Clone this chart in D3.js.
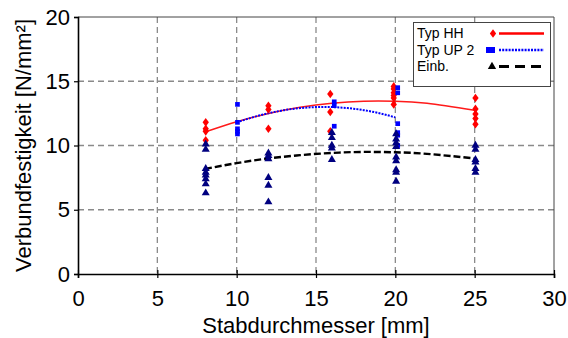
<!DOCTYPE html>
<html>
<head>
<meta charset="utf-8">
<script src="https://cdn.jsdelivr.net/npm/d3@7/dist/d3.min.js"></script>
<style>
  html, body { margin: 0; padding: 0; background: #fff; }
  svg { display: block; font-family: "Liberation Sans", Arial, sans-serif; }
</style>
</head>
<body>
<svg id="chart" width="568" height="338"></svg>
<script>
// ---- data ----
const xTicks = [0, 5, 10, 15, 20, 25, 30];
const yTicks = [0, 5, 10, 15, 20];
const xTitle = "Stabdurchmesser [mm]";
const yTitle = "Verbundfestigkeit [N/mm²]";
const seriesNames = ["Typ HH", "Typ UP 2", "Einb."];

// Typ HH measurements
const hhX = [8.05, 8.05, 8.05, 8.05, 12, 12, 12, 15.9, 15.9, 15.9, 19.9, 19.9, 19.9, 19.9, 19.9, 19.9, 25.05, 25.05, 25.05, 25.05, 25.05];
const hhY = [11.8, 11.3, 11.1, 10.4, 13.1, 12.8, 11.3, 14.0, 12.6, 11.1, 14.6, 14.4, 14.1, 13.9, 13.7, 13.2, 13.7, 12.85, 12.45, 12.1, 11.65];
// Typ UP 2 measurements
const upX = [10.05, 10.05, 10.05, 10.05, 10.05, 16.15, 16.15, 16.15, 20.15, 20.15, 20.15, 20.15, 20.15, 20.15];
const upY = [13.2, 11.8, 11.3, 11.1, 10.9, 13.4, 13.1, 11.5, 14.5, 14.1, 11.7, 11.0, 10.8, 10.0];
// Einb. measurements
const einX = [8.05, 8.05, 8.05, 8.05, 8.05, 8.05, 8.05, 8.05, 12, 12, 12, 12, 12, 12, 16, 16, 16, 16, 16, 20.05, 20.05, 20.05, 20.05, 20.05, 20.05, 20.05, 20.05, 20.05, 25.05, 25.05, 25.05, 25.05, 25.05, 25.05];
const einY = [10.1, 9.7, 8.2, 7.9, 7.7, 7.4, 7.0, 6.3, 9.4, 9.2, 8.95, 7.5, 6.9, 5.6, 11.0, 10.6, 10.0, 9.8, 8.9, 10.9, 10.5, 10.2, 9.9, 9.1, 8.8, 8.1, 7.9, 7.2, 10.0, 9.7, 8.9, 8.7, 8.2, 7.9];

// Trend curves
const hhFitX = [8, 10, 12, 14, 16, 18, 20, 22, 25];
const hhFitY = [11.05, 11.85, 12.49, 12.97, 13.29, 13.45, 13.45, 13.29, 12.75];
const upFitX = [10, 11, 12, 13, 14, 15, 16, 17, 18, 19, 20];
const upFitY = [11.8, 12.19, 12.51, 12.75, 12.91, 12.99, 12.99, 12.91, 12.75, 12.51, 12.19];
const einFitX = [8, 10, 12, 14, 16, 18, 20, 22, 25];
const einFitY = [8.17, 8.63, 8.99, 9.25, 9.42, 9.5, 9.47, 9.35, 8.99];

// ---- drawing ----
const svg = d3.select("#chart");
const L = 78, R = 554, T = 17, B = 274;
const x = d3.scaleLinear().domain([0, 30]).range([L, R]);
const y = d3.scaleLinear().domain([0, 20]).range([B, T]);

// grid
const grid = svg.append("g").attr("stroke", "#8a8a8a").attr("stroke-width", 1.3).attr("stroke-dasharray", "6,4");
grid.selectAll("line.v").data(xTicks.filter(d => d > 0 && d < 30)).enter().append("line")
  .attr("x1", d => x(d)).attr("x2", d => x(d)).attr("y1", T).attr("y2", B);
grid.selectAll("line.h").data(yTicks.filter(d => d > 0 && d < 20)).enter().append("line")
  .attr("x1", L).attr("x2", R).attr("y1", d => y(d)).attr("y2", d => y(d));

// frame top/right
svg.append("line").attr("x1", L).attr("x2", R).attr("y1", T).attr("y2", T).attr("stroke", "#444").attr("stroke-width", 1);
svg.append("line").attr("x1", R).attr("x2", R).attr("y1", T).attr("y2", B).attr("stroke", "#444").attr("stroke-width", 1);

// axes
const xAxis = svg.append("g").attr("transform", `translate(0,${B})`)
  .call(d3.axisBottom(x).tickValues(xTicks).tickSize(4).tickPadding(14));
const yAxis = svg.append("g").attr("transform", `translate(${L},0)`)
  .call(d3.axisLeft(y).tickValues(yTicks).tickSize(4).tickPadding(5));
[xAxis, yAxis].forEach(a => {
  a.select(".domain").attr("stroke", "#000").attr("stroke-width", 1.6);
  a.selectAll(".tick line").attr("stroke", "#000").attr("stroke-width", 1.2);
  a.selectAll(".tick text").attr("font-size", 22).attr("fill", "#000").attr("font-family", "Liberation Sans, Arial, sans-serif");
});
xAxis.selectAll(".tick line").attr("y1", -4).attr("y2", 4);
xAxis.selectAll(".tick text").attr("dy", "0.71em").attr("y", 16);
yAxis.selectAll(".tick text").attr("x", -8);

svg.append("text").attr("x", (L + R) / 2).attr("y", 333).attr("text-anchor", "middle")
  .attr("font-size", 22).text(xTitle);
svg.append("text").attr("transform", `translate(31,${(T + B) / 2}) rotate(-90)`).attr("text-anchor", "middle")
  .attr("font-size", 22).text(yTitle);

// lines
const line = d3.line().x(d => x(d[0])).y(d => y(d[1])).curve(d3.curveNatural);
svg.append("path").datum(hhFitX.map((v, i) => [v, hhFitY[i]])).attr("d", line)
  .attr("fill", "none").attr("stroke", "#ff1a1a").attr("stroke-width", 1.5);
svg.append("path").datum(upFitX.map((v, i) => [v, upFitY[i]])).attr("d", line)
  .attr("fill", "none").attr("stroke", "#0000ff").attr("stroke-width", 2).attr("stroke-dasharray", "2,1.2");
svg.append("path").datum(einFitX.map((v, i) => [v, einFitY[i]])).attr("d", line)
  .attr("fill", "none").attr("stroke", "#000").attr("stroke-width", 2.4).attr("stroke-dasharray", "7,3");

// markers
const diamond = d3.symbol().type(d3.symbolDiamond).size(26);
const square = d3.symbol().type(d3.symbolSquare).size(22);
const tri = d3.symbol().type(d3.symbolTriangle).size(28);
svg.append("g").selectAll("path").data(hhX.map((v, i) => [v, hhY[i]])).enter().append("path")
  .attr("d", diamond).attr("transform", d => `translate(${x(d[0])},${y(d[1])}) scale(1.15,0.9)`).attr("fill", "#ff0000");
svg.append("g").selectAll("path").data(upX.map((v, i) => [v, upY[i]])).enter().append("path")
  .attr("d", square).attr("transform", d => `translate(${x(d[0])},${y(d[1])})`).attr("fill", "#0000ff");
svg.append("g").selectAll("path").data(einX.map((v, i) => [v, einY[i]])).enter().append("path")
  .attr("d", tri).attr("transform", d => `translate(${x(d[0])},${y(d[1])})`).attr("fill", "#000080");

// legend
const lg = svg.append("g");
lg.append("rect").attr("x", 413.5).attr("y", 22.5).attr("width", 137).attr("height", 64)
  .attr("fill", "#fff").attr("stroke", "#444").attr("stroke-width", 1);
const rowsY = [38, 54.5, 71];
seriesNames.forEach((n, i) => {
  lg.append("text").attr("x", 417).attr("y", rowsY[i]).attr("font-size", 14).attr("fill", "#000").text(n);
});
const ly = rowsY.map(v => v - 4.5);
lg.append("path").attr("d", d3.symbol().type(d3.symbolDiamond).size(26)).attr("transform", `translate(493,${ly[0]}) scale(1.15,0.9)`).attr("fill", "#ff0000");
lg.append("line").attr("x1", 499).attr("x2", 544).attr("y1", ly[0]).attr("y2", ly[0]).attr("stroke", "#ff0000").attr("stroke-width", 2.5);
lg.append("rect").attr("x", 486).attr("y", ly[1] - 3).attr("width", 9).attr("height", 6).attr("fill", "#0000ff");
lg.append("line").attr("x1", 499).attr("x2", 544).attr("y1", ly[1]).attr("y2", ly[1]).attr("stroke", "#0000ff").attr("stroke-width", 2.5).attr("stroke-dasharray", "2,1.2");
lg.append("path").attr("d", d3.symbol().type(d3.symbolTriangle).size(30)).attr("transform", `translate(492,${ly[2]})`).attr("fill", "#000");
lg.append("line").attr("x1", 499).attr("x2", 544).attr("y1", ly[2]).attr("y2", ly[2]).attr("stroke", "#000").attr("stroke-width", 3).attr("stroke-dasharray", "10,6");
</script>
</body>
</html>
